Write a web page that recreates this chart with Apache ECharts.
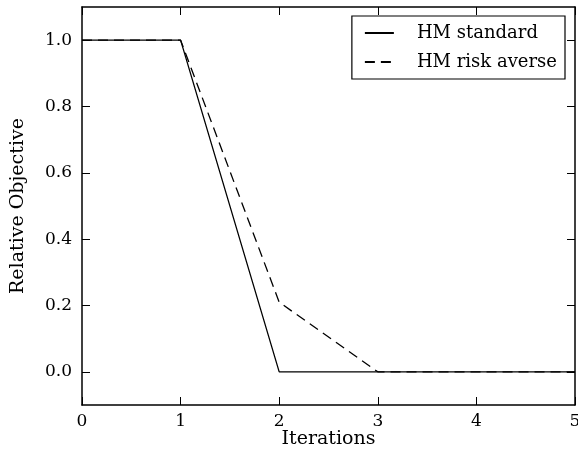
<!DOCTYPE html>
<html>
<head>
<meta charset="utf-8">
<script src="https://cdn.jsdelivr.net/npm/echarts@6/dist/echarts.min.js"></script>
<style>
  html, body { margin: 0; padding: 0; background: #fff; }
  #main { width: 578px; height: 466px; }
</style>
</head>
<body>
<div id="main"></div>
<script>
// data
let iterations = [0, 1, 2, 3, 4, 5];
let hmStandard = [1.0, 1.0, 0.0, 0.0, 0.0, 0.0];
let hmRiskAverse = [1.0, 1.0, 0.21, 0.0, 0.0, 0.0];
let yTicks = [0.0, 0.2, 0.4, 0.6, 0.8, 1.0];

let font = "'DejaVu Serif', serif";
let myChart = echarts.init(document.getElementById('main'));

function pairs(ys) {
    return iterations.map(function (x, i) { return [x, ys[i]]; });
}

let axisLine = { show: true, onZero: false, lineStyle: { color: '#000', width: 1.5 } };
let tick = { show: true, inside: true, length: 8, lineStyle: { color: '#000', width: 1 } };

let option = {
    backgroundColor: '#fff',
    animation: false,
    grid: { left: 82, right: 3, top: 7, bottom: 61, outerBoundsMode: 'none', containLabel: false },
    legend: {
        right: 13,
        top: 16,
        orient: 'vertical',
        itemWidth: 29,
        itemHeight: 18,
        itemGap: 11,
        padding: [8, 8, 8, 12],
        borderColor: '#000',
        borderWidth: 1.2,
        borderRadius: 0,
        backgroundColor: '#fff',
        itemStyle: { opacity: 0 },
        textStyle: { fontFamily: font, fontSize: 18, color: '#000', padding: [0, 0, 0, 18] },
        data: ['HM standard', 'HM risk averse']
    },
    xAxis: [{
        type: 'value',
        min: 0, max: 5, interval: 1,
        name: 'Iterations',
        nameLocation: 'middle',
        nameGap: 25,
        nameMoveOverlap: false,
        nameTextStyle: { fontFamily: font, fontSize: 19, color: '#000' },
        axisLine: axisLine,
        axisTick: tick,
        splitLine: { show: false },
        axisLabel: { fontFamily: font, fontSize: 17, color: '#000', margin: 8 }
    }, {
        type: 'value', position: 'top',
        min: 0, max: 5, interval: 1,
        axisLine: axisLine,
        axisTick: tick,
        splitLine: { show: false },
        axisLabel: { show: false }
    }],
    yAxis: [{
        type: 'value',
        min: -0.1, max: 1.1,
        name: 'Relative Objective',
        nameLocation: 'middle',
        nameGap: 54,
        nameMoveOverlap: false,
        nameTextStyle: { fontFamily: font, fontSize: 19, color: '#000' },
        axisLine: axisLine,
        axisTick: Object.assign({}, tick, { customValues: yTicks }),
        splitLine: { show: false },
        axisLabel: {
            customValues: yTicks,
            fontFamily: font, fontSize: 17, color: '#000', margin: 10,
            formatter: function (v) { return v.toFixed(1); }
        }
    }, {
        type: 'value', position: 'right',
        min: -0.1, max: 1.1,
        axisLine: axisLine,
        axisTick: Object.assign({}, tick, { customValues: yTicks }),
        splitLine: { show: false },
        axisLabel: { show: false, customValues: yTicks }
    }],
    series: [{
        name: 'HM standard',
        type: 'line',
        data: pairs(hmStandard),
        showSymbol: false,
        symbol: 'none',
        lineStyle: { color: '#000', width: 1.3, type: 'solid' },
        itemStyle: { color: '#000' }
    }, {
        name: 'HM risk averse',
        type: 'line',
        data: pairs(hmRiskAverse),
        showSymbol: false,
        symbol: 'none',
        lineStyle: { color: '#000', width: 1.3, type: [10, 6] },
        itemStyle: { color: '#000' }
    }]
};

myChart.setOption(option);
</script>
</body>
</html>
